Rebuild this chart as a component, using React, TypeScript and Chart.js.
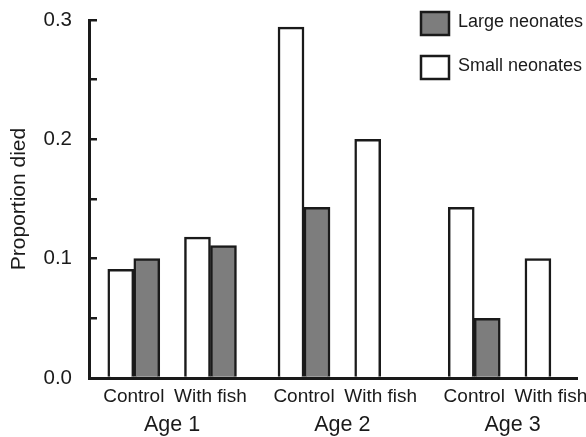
import React, { useEffect, useRef } from 'react';
import { Chart, registerables } from 'chart.js';

Chart.register(...registerables);

// ---- data ----
const ageLabels = ['Age 1', 'Age 2', 'Age 3'];
const treatmentLabels = ['Control', 'With fish'];
const smallNeonates = [0.091, 0.118, 0.294, 0.2, 0.143, 0.1];
const largeNeonates = [0.1, 0.111, 0.143, 0, 0.05, 0];
const seriesNames = ['Small neonates', 'Large neonates'];
const yMajorTicks = [0, 0.1, 0.2, 0.3];
const yTickLabels = ['0.0', '0.1', '0.2', '0.3'];

// ---- layout helpers ----
const GROUP_STEP = 2.22;
const positions = ageLabels.flatMap((_, g) => treatmentLabels.map((__, t) => g * GROUP_STEP + t));
const xTickLabels = ageLabels.flatMap(() => treatmentLabels);
const agePositions = ageLabels.map((_, g) => g * GROUP_STEP + (treatmentLabels.length - 1) / 2);
const yAllTicks: number[] = [];
yMajorTicks.forEach((v, i) => {
  yAllTicks.push(v);
  if (i < yMajorTicks.length - 1) yAllTicks.push((v + yMajorTicks[i + 1]) / 2);
});

const X_MIN = -0.584;
const X_MAX = 5.78;
const FONT = '"Liberation Sans", Arial, Helvetica, sans-serif';
const INK = '#1a1a1a';

const legendPlugin = {
  id: 'insideLegend',
  afterDraw(chart: any) {
    const ctx = chart.ctx;
    const order = [1, 0];
    const x0 = chart.chartArea.right - 156;
    const y0 = chart.chartArea.top - 8;
    ctx.save();
    order.forEach((di, row) => {
      const ds = chart.data.datasets[di];
      const y = y0 + row * 44;
      ctx.fillStyle = ds.backgroundColor;
      ctx.fillRect(x0, y, 28, 23);
      ctx.lineWidth = 2.5;
      ctx.strokeStyle = INK;
      ctx.strokeRect(x0, y, 28, 23);
      ctx.fillStyle = INK;
      ctx.font = `18px ${FONT}`;
      ctx.textBaseline = 'middle';
      ctx.textAlign = 'left';
      ctx.fillText(ds.label, x0 + 37, y + 10.5);
    });
    ctx.restore();
  },
};

export default function App() {
  const ref = useRef<HTMLCanvasElement>(null);
  useEffect(() => {
    Chart.defaults.font.family = FONT;
    const chart = new Chart(ref.current!, {
      type: 'bar',
      data: {
        datasets: [
          {
            label: seriesNames[0],
            data: positions.map((x, i) => ({ x, y: smallNeonates[i] })),
            backgroundColor: '#ffffff',
            borderColor: INK,
            borderWidth: 2.5,
            barThickness: 26,
            xAxisID: 'x',
            yAxisID: 'y',
          },
          {
            label: seriesNames[1],
            data: positions.map((x, i) => ({ x, y: largeNeonates[i] })),
            backgroundColor: '#7d7d7d',
            borderColor: INK,
            borderWidth: 2.5,
            barThickness: 26,
            xAxisID: 'x',
            yAxisID: 'y',
          },
        ],
      } as any,
      options: {
        responsive: false,
        animation: false,
        devicePixelRatio: 1,
        layout: { padding: { left: 0, top: 20, right: 9, bottom: 0 } },
        plugins: { legend: { display: false }, tooltip: { enabled: false } },
        scales: {
          x: {
            type: 'linear',
            position: 'bottom',
            weight: 1,
            min: X_MIN,
            max: X_MAX,
            offset: false,
            grid: { display: false, drawTicks: false, offset: false },
            border: { display: true, color: INK, width: 3 },
            afterBuildTicks: (s: any) => {
              s.ticks = positions.map((v) => ({ value: v }));
            },
            ticks: {
              autoSkip: false,
              maxRotation: 0,
              padding: 7,
              color: INK,
              font: { size: 19, family: FONT },
              callback: (_v: any, i: number) => xTickLabels[i],
            },
            afterFit: (s: any) => {
              s.height = 30;
              s.paddingLeft = 0;
              s.paddingRight = 0;
            },
          },
          x2: {
            type: 'linear',
            position: 'bottom',
            weight: 2,
            display: true,
            min: X_MIN,
            max: X_MAX,
            offset: false,
            grid: { display: false, drawTicks: false, offset: false },
            border: { display: false },
            afterBuildTicks: (s: any) => {
              s.ticks = agePositions.map((v) => ({ value: v }));
            },
            ticks: {
              autoSkip: false,
              maxRotation: 0,
              padding: 4,
              color: INK,
              font: { size: 21.5, family: FONT },
              callback: (_v: any, i: number) => ageLabels[i],
            },
            afterFit: (s: any) => {
              s.height = 29;
              s.paddingLeft = 0;
              s.paddingRight = 0;
            },
          },
          y: {
            type: 'linear',
            position: 'left',
            min: 0,
            max: 0.3,
            grid: {
              display: true,
              drawOnChartArea: false,
              drawTicks: true,
              tickLength: -8,
              color: INK,
              lineWidth: 2.5,
            },
            border: { display: true, color: INK, width: 3 },
            afterBuildTicks: (s: any) => {
              s.ticks = yAllTicks.map((v) => ({ value: v }));
            },
            ticks: {
              autoSkip: false,
              padding: 25,
              color: INK,
              font: { size: 20.5, family: FONT },
              callback: (v: any) => {
                const idx = yMajorTicks.findIndex((m) => Math.abs(m - v) < 1e-9);
                return idx >= 0 ? yTickLabels[idx] : '';
              },
            },
            title: {
              display: true,
              text: 'Proportion died',
              color: INK,
              font: { size: 21, family: FONT },
              padding: { top: 7, bottom: 0 },
            },
            afterFit: (s: any) => {
              s.width = 89;
              s.paddingTop = 0;
              s.paddingBottom = 0;
            },
          },
        },
      } as any,
      plugins: [legendPlugin],
    });
    return () => chart.destroy();
  }, []);

  return (
    <div style={{ position: 'fixed', left: 0, top: 0, width: 586, height: 437, background: '#ffffff' }}>
      <canvas ref={ref} width={586} height={437} style={{ display: 'block' }} />
    </div>
  );
}
